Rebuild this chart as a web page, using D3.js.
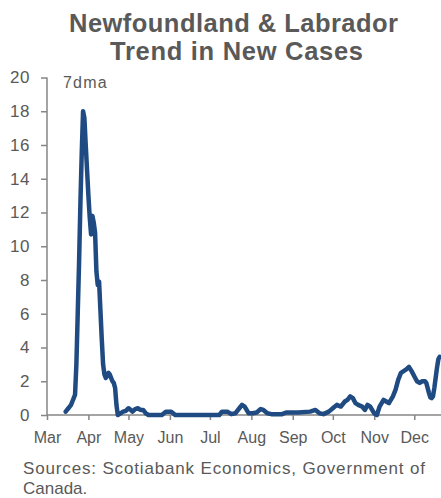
<!DOCTYPE html>
<html>
<head>
<meta charset="utf-8">
<script src="https://cdn.jsdelivr.net/npm/d3@7"></script>
<style>
  html, body { margin: 0; padding: 0; background: #fff; }
  svg { display: block; font-family: "Liberation Sans", Arial, sans-serif; }
</style>
</head>
<body>
<svg id="chart" width="441" height="498"></svg>
<script>
// Newfoundland & Labrador: 7-day moving average of new COVID-19 cases, 2020
const dates = [
  "2020-03-15","2020-03-16","2020-03-17","2020-03-18","2020-03-19","2020-03-20","2020-03-21","2020-03-22",
  "2020-03-23","2020-03-24","2020-03-25","2020-03-26","2020-03-27","2020-03-28","2020-03-29","2020-03-30",
  "2020-03-31","2020-04-01","2020-04-02","2020-04-03","2020-04-04","2020-04-05","2020-04-06","2020-04-07",
  "2020-04-08","2020-04-09","2020-04-10","2020-04-11","2020-04-12","2020-04-13","2020-04-14","2020-04-15",
  "2020-04-16","2020-04-17","2020-04-18","2020-04-19","2020-04-20","2020-04-21","2020-04-22","2020-04-23",
  "2020-04-25","2020-04-27","2020-04-29","2020-05-01","2020-05-02","2020-05-04","2020-05-06","2020-05-08",
  "2020-05-10","2020-05-12","2020-05-14","2020-05-16","2020-05-26","2020-05-29","2020-06-02","2020-06-05",
  "2020-07-08","2020-07-10","2020-07-14","2020-07-17","2020-07-20","2020-07-23","2020-07-25","2020-07-27",
  "2020-07-30","2020-08-02","2020-08-05","2020-08-08","2020-08-10","2020-08-13","2020-08-16","2020-08-24",
  "2020-08-27","2020-09-05","2020-09-14","2020-09-18","2020-09-21","2020-09-24","2020-09-28","2020-10-01",
  "2020-10-04","2020-10-07","2020-10-10","2020-10-12","2020-10-14","2020-10-16","2020-10-18","2020-10-20",
  "2020-10-23","2020-10-25","2020-10-27","2020-10-29","2020-11-01","2020-11-03","2020-11-05","2020-11-08",
  "2020-11-10","2020-11-12","2020-11-15","2020-11-17","2020-11-19","2020-11-21","2020-11-23","2020-11-25",
  "2020-11-27","2020-11-29","2020-12-01","2020-12-03","2020-12-05","2020-12-07","2020-12-09","2020-12-10",
  "2020-12-12","2020-12-13","2020-12-14","2020-12-15","2020-12-16","2020-12-17","2020-12-18","2020-12-19",
  "2020-12-20"
];
const cases7dma = [
  0.2, 0.3, 0.4, 0.5, 0.6, 0.8, 1.0, 1.2,
  3.0, 6.0, 9.0, 12.5, 15.5, 18.0, 17.6, 16.0,
  14.5, 13.0, 11.7, 10.7, 11.8, 11.4, 10.8, 8.5,
  7.7, 7.9, 6.2, 4.5, 3.0, 2.4, 2.2, 2.3,
  2.5, 2.4, 2.2, 2.0, 1.9, 1.6, 0.6, 0.0,
  0.1, 0.2, 0.25, 0.4, 0.35, 0.2, 0.35, 0.4,
  0.3, 0.3, 0.1, 0.0, 0.0, 0.2, 0.2, 0.0,
  0.0, 0.2, 0.2, 0.05, 0.1, 0.4, 0.6, 0.5,
  0.1, 0.1, 0.15, 0.35, 0.3, 0.1, 0.05, 0.05,
  0.15, 0.15, 0.2, 0.3, 0.1, 0.05, 0.2, 0.4,
  0.6, 0.5, 0.8, 0.9, 1.1, 1.0, 0.7, 0.6,
  0.5, 0.3, 0.6, 0.5, 0.1, 0.0, 0.5, 0.9,
  0.8, 0.7, 1.1, 1.5, 2.1, 2.5, 2.6, 2.7,
  2.85, 2.6, 2.3, 2.0, 1.9, 2.0, 2.0, 1.9,
  1.3, 1.05, 1.0, 1.1, 1.6, 2.2, 2.8, 3.3,
  3.45
];
const monthLabels = ["Mar","Apr","May","Jun","Jul","Aug","Sep","Oct","Nov","Dec"];
const yTicks = [0, 2, 4, 6, 8, 10, 12, 14, 16, 18, 20];
const titleLines = ["Newfoundland & Labrador", "Trend in New Cases"];
const unitLabel = "7dma";
const sourceLines = ["Sources: Scotiabank Economics, Government of", "Canada."];

const parse = d3.timeParse("%Y-%m-%d");
const series = dates.map((d, i) => ({ date: parse(d), value: cases7dma[i] }));

const textColor = "#595959";
const axisColor = "#868686";
const lineColor = "#1f4b82";
const fontFamily = "'Liberation Sans', Arial, sans-serif";

const svg = d3.select("#chart");
const plot = { left: 47, right: 441, top: 77.5, bottom: 415 };

const x = d3.scaleTime()
  .domain([parse("2020-03-01"), parse("2020-12-21")])
  .range([plot.left, plot.right]);
const y = d3.scaleLinear()
  .domain([0, 20])
  .range([plot.bottom, plot.top]);

// Title, two centred lines fitted to their set widths
const titleLayout = [{ cx: 233.5, y: 32, w: 329 }, { cx: 236.5, y: 60, w: 253 }];
svg.append("g")
  .selectAll("text")
  .data(titleLines)
  .join("text")
  .attr("x", (d, i) => titleLayout[i].cx)
  .attr("y", (d, i) => titleLayout[i].y)
  .attr("text-anchor", "middle")
  .attr("textLength", (d, i) => titleLayout[i].w)
  .attr("lengthAdjust", "spacing")
  .attr("font-size", 25.5)
  .attr("font-weight", "bold")
  .attr("fill", textColor)
  .text(d => d);

// Y axis
const yAxis = svg.append("g")
  .attr("transform", `translate(${plot.left},0)`)
  .call(d3.axisLeft(y).tickValues(yTicks).tickSize(6).tickPadding(11));
yAxis.selectAll("text").attr("font-size", 17).attr("fill", textColor)
  .attr("font-family", fontFamily).attr("letter-spacing", 0.5);
yAxis.selectAll("line, path").attr("stroke", axisColor).attr("stroke-width", 1.5);
yAxis.select(".domain").attr("d", `M0,${plot.top}V${plot.bottom}`);

// X axis: ticks and labels at month starts
const monthStarts = monthLabels.map((m, i) => new Date(2020, 2 + i, 1));
const xAxis = svg.append("g")
  .attr("transform", `translate(0,${plot.bottom})`)
  .call(d3.axisBottom(x).tickValues(monthStarts)
    .tickFormat((d, i) => monthLabels[i]).tickSize(5).tickPadding(12));
xAxis.selectAll("text").attr("font-size", 16).attr("fill", textColor)
  .attr("font-family", fontFamily);
xAxis.selectAll("line, path").attr("stroke", axisColor).attr("stroke-width", 1.5);
xAxis.select(".domain").attr("d", `M${plot.left},0H${plot.right}`);

// Unit label
svg.append("text")
  .attr("x", 63)
  .attr("y", 88)
  .attr("font-size", 16)
  .attr("letter-spacing", 1.2)
  .attr("fill", textColor)
  .text(unitLabel);

// Series line
const line = d3.line()
  .x(d => x(d.date))
  .y(d => y(d.value))
  .curve(d3.curveLinear);
svg.append("path")
  .datum(series)
  .attr("d", line)
  .attr("fill", "none")
  .attr("stroke", lineColor)
  .attr("stroke-width", 4.5)
  .attr("stroke-linejoin", "round")
  .attr("stroke-linecap", "round");

// Source note
const sourceWidths = [402, null];
svg.append("g")
  .selectAll("text")
  .data(sourceLines)
  .join("text")
  .attr("x", 23)
  .attr("y", (d, i) => 474 + i * 20)
  .attr("font-size", 17)
  .attr("fill", textColor)
  .each(function (d, i) {
    if (sourceWidths[i]) {
      d3.select(this).attr("textLength", sourceWidths[i]).attr("lengthAdjust", "spacing");
    }
  })
  .text(d => d);
</script>
</body>
</html>
